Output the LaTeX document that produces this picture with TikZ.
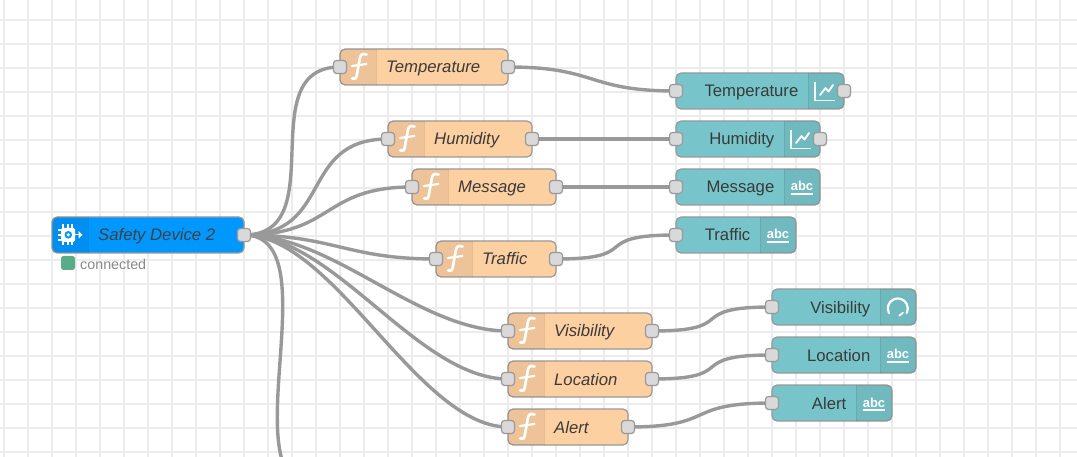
\documentclass[tikz,border=0pt]{standalone}
\usepackage{fontspec}
\setmainfont{Liberation Sans}
\usetikzlibrary{backgrounds}
\definecolor{gridc}{HTML}{ECECEC}
\definecolor{wirec}{HTML}{999999}
\definecolor{fnc}{HTML}{FDD0A2}
\definecolor{uic}{HTML}{77C5CA}
\definecolor{devc}{HTML}{0098FF}
\definecolor{portc}{HTML}{D9D9D9}
\definecolor{txtc}{HTML}{3A3A3A}
\definecolor{stc}{HTML}{5AAB87}
\definecolor{stt}{HTML}{888888}
\tikzset{
  x=1pt,y=-1pt,
  boxbase/.style={draw=wirec,line width=1.2pt,rounded corners=5pt,minimum height=36pt,inner sep=0pt,outer sep=0pt,anchor=west},
  fnbox/.style={boxbase,fill=fnc},
  uibox/.style={boxbase,fill=uic},
  devbox/.style={boxbase,fill=devc},
  portbox/.style={draw=wirec,line width=1.2pt,fill=portc,rounded corners=3pt,minimum width=13pt,minimum height=13pt,inner sep=0pt,outer sep=0pt},
  lbl/.style={font=\fontsize{16.7pt}{18pt}\selectfont,text=txtc,inner sep=0pt},
  wire/.style={draw=wirec,line width=3.4pt},
  shade/.style={fill=black,fill opacity=.06},
  sep/.style={draw=black,draw opacity=.08,line width=1pt},
  icon/.style={draw=white,line width=2.7pt,line cap=round,line join=round},
  thinicon/.style={draw=white,draw opacity=.9,line width=1.3pt,line join=round},
  abctxt/.style={font=\fontsize{13pt}{14pt}\selectfont\bfseries,text=white,inner sep=0pt}
}
\newcommand{\shadepart}[4]{%
  \fill[shade] (#2,#3-18) [rounded corners=5pt] -- (#1,#3-18) -- (#1,#3+18) [sharp corners] -- (#2,#3+18) -- cycle;}
\newcommand{\shaderight}[4]{%
  \fill[shade] (#1,#3-18) [rounded corners=5pt] -- (#2,#3-18) -- (#2,#3+18) [sharp corners] -- (#1,#3+18) -- cycle;}
\newcommand{\fnblock}[5]{%
  \node[fnbox,minimum width={#3-#2}] (#1) at (#2,#4) {};
  \shadepart{#2}{#2+36}{#4}{}
  \draw[sep] (#2+36,#4-18) -- (#2+36,#4+18);
  \draw[icon] (#2+26.5,#4-12.5) .. controls (#2+22.5,#4-14) and (#2+20,#4-12.5) .. (#2+19.5,#4-7)
     -- (#2+16.8,#4+8) .. controls (#2+16.3,#4+12) and (#2+14.5,#4+12.5) .. (#2+12,#4+11.5);
  \draw[icon,line width=2.2pt] (#2+12,#4-1) -- (#2+26.5,#4-3);
  \node[lbl,anchor=base west] (#1-t) at (#2+46,#4+6) {#5};
  \node[portbox] (#1-in) at (#2,#4) {};
  \node[portbox] (#1-out) at (#3,#4) {};
}
\newcommand{\uiblock}[6]{%
  \node[uibox,minimum width={#3-#2}] (#1) at (#2,#4) {};
  \shaderight{#6}{#3}{#4}{}
  \draw[sep] (#6,#4-18) -- (#6,#4+18);
  \node[lbl,anchor=base east] (#1-t) at (#6-9.5,#4+6) {#5};
  \node[portbox] (#1-in) at (#2,#4) {};
}
\newcommand{\charticon}[2]{%
  \draw[thinicon] (#1-11,#2-9) -- (#1-11,#2+9.5) -- (#1+9,#2+9.5);
  \draw[icon,line width=1.9pt,draw opacity=.95] (#1-6,#2+4) -- (#1-0.5,#2-3) -- (#1+2.5,#2+0.5) -- (#1+7,#2-6);
}
\newcommand{\abcicon}[3]{%
  \node[abctxt,anchor=base] (#3) at (#1,#2+4) {abc};
  \draw[white,line width=2pt] (#1-11,#2+7) -- (#1+11,#2+7);
}
\newcommand{\wireto}[2]{%
  \draw[wire] (#1-out.center) .. controls +(90,0) and +(-90,0) .. (#2-in.center);
}
\begin{document}
\begin{tikzpicture}
\useasboundingbox (0,0) rectangle (1077,457);
\clip (0,0) rectangle (1077,457);

% device
\node[devbox,minimum width=192pt] (dev) at (52,235) {};
\shadepart{52}{88}{235}{}
\draw[sep] (88,217) -- (88,253);
\node[lbl,anchor=base west,font=\fontsize{16.7pt}{18pt}\selectfont\itshape,text=black!75] (dev-t) at (98,241) {Safety Device 2};
\node[portbox] (dev-out) at (244,235) {};
% chip icon
\fill[white,rounded corners=1.5pt] (61,228) rectangle (75,242);
\fill[devc] (68.3,234.8) circle (3.8pt);
\fill[white] (68.3,234.8) circle (1.8pt);
\foreach \p in {63,68,72}{\draw[white,line width=1.3pt] (\p,224) -- (\p,228) (\p,242) -- (\p,245.5);}
\foreach \p in {230,235,240}{\draw[white,line width=1.3pt] (58,\p) -- (61,\p);}
\draw[white,line width=1.4pt] (75,234.8) -- (80,234.8);
\fill[white] (82.5,234.8) -- (78.5,231) -- (78.5,238.5) -- cycle;
% status
\fill[stc,rounded corners=2.5pt] (61,256) rectangle (75,270);
\node[anchor=base west,inner sep=0pt,text=stt,font=\fontsize{14.3pt}{16pt}\selectfont] (dev-st) at (80,269.7) {connected};

% function nodes
\fnblock{ftemp}{340}{508}{67}{\itshape Temperature}
\fnblock{fhum}{388}{532}{139}{\itshape Humidity}
\fnblock{fmsg}{412}{556}{187}{\itshape Message}
\fnblock{ftraf}{436}{556}{259}{\itshape Traffic}
\fnblock{fvis}{508}{652}{331}{\itshape Visibility}
\fnblock{floc}{508}{652}{379}{\itshape Location}
\fnblock{falert}{508}{628}{427}{\itshape Alert}

% output nodes
\uiblock{utemp}{676}{844}{91}{Temperature}{808}
\charticon{826}{91}
\node[portbox] (utemp-out) at (844,91) {};
\uiblock{uhum}{676}{820}{139}{Humidity}{784}
\charticon{802}{139}
\node[portbox] (uhum-out) at (820,139) {};
\uiblock{umsg}{676}{820}{187}{Message}{784}
\abcicon{802}{187}{umsg-i}
\uiblock{utraf}{676}{796}{235}{Traffic}{760}
\abcicon{778}{235}{utraf-i}
\uiblock{uvis}{772}{916}{307}{Visibility}{880}
\draw[icon,line width=2.2pt] (888.9,313) arc (207:-27:10pt);
\draw[icon,line width=1.8pt] (899.3,315.7) -- (903,312.7);
\uiblock{uloc}{772}{916}{355}{Location}{880}
\abcicon{898}{355}{uloc-i}
\uiblock{ualert}{772}{892}{403}{Alert}{856}
\abcicon{874}{403}{ualert-i}

\coordinate (offpage-in) at (316,488);

\begin{pgfonlayer}{background}
  \foreach \k in {0,...,44}{\draw[gridc,line width=2.2pt] (4+24*\k,0) -- (4+24*\k,457);}
  \foreach \k in {0,...,18}{\draw[gridc,line width=2.2pt] (0,20+24*\k) -- (1077,20+24*\k);}
  \wireto{dev}{ftemp}
  \wireto{dev}{fhum}
  \wireto{dev}{fmsg}
  \wireto{dev}{ftraf}
  \wireto{dev}{fvis}
  \wireto{dev}{floc}
  \wireto{dev}{falert}
  \draw[wire] (dev-out.center) .. controls +(90,0) and +(-90,0) .. (offpage-in);
  \wireto{ftemp}{utemp}
  \wireto{fhum}{uhum}
  \wireto{fmsg}{umsg}
  \wireto{ftraf}{utraf}
  \wireto{fvis}{uvis}
  \wireto{floc}{uloc}
  \wireto{falert}{ualert}
\end{pgfonlayer}
\end{tikzpicture}
\end{document}
